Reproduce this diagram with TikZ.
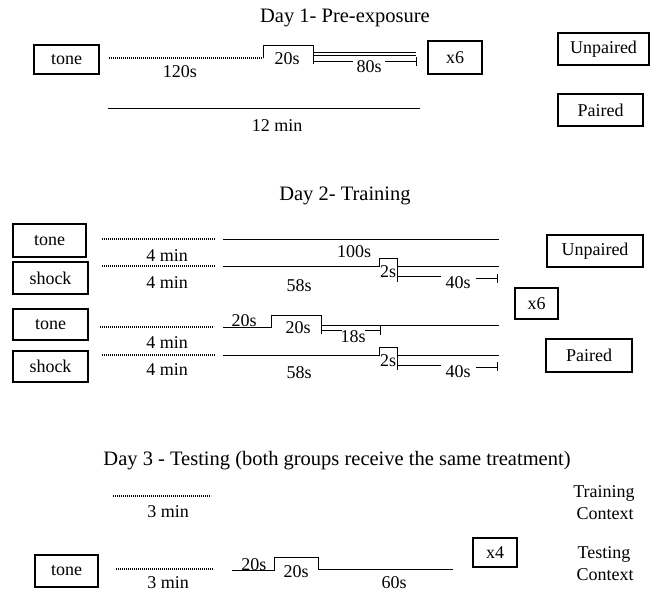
\documentclass[tikz,border=0pt]{standalone}
\usepackage{fontspec}
\setmainfont{Liberation Serif}
\newcommand\lfont{\fontsize{18}{21}\selectfont}
\newcommand\tfont{\fontsize{20.5}{24}\selectfont}
\begin{document}
\begin{tikzpicture}[x=1pt,y=-1pt,
  box/.style={draw, line width=1.1pt, inner sep=0pt, font=\lfont},
  lbl/.style={anchor=base, inner sep=0pt, font=\lfont},
  ttl/.style={anchor=base, inner sep=0pt, font=\tfont},
  dots/.style={line width=1.3pt, dash pattern=on 0.8pt off 1.2pt},
  ln/.style={line width=1pt},
  thn/.style={line width=0.8pt}]
\useasboundingbox (0,0) rectangle (656,592);

% ---------------- Day 1 ----------------
\node[ttl] (t1) at (345,22) {Day 1- Pre-exposure};
\node[box, minimum width=65pt, minimum height=29pt] (d1tone) at (66.5,59.5) {tone};
\draw[dots] (109,58) -- (263,58);
\draw[ln] (263,58) -- (263,45) -- (313,45) -- (313,64);
\draw[thn] (313,52) -- (416,52);
\draw[thn] (313,55) -- (416,55);
\draw[thn] (313,61) -- (353,61) (385,61) -- (416,61) (416,57) -- (416,66);
\node[lbl] (d1a) at (180,77) {120s};
\node[lbl] (d1b) at (287,64) {20s};
\node[lbl] (d1c) at (369,72) {80s};
\node[box, minimum width=54pt, minimum height=33pt] (d1x6) at (455,57.5) {x6};
\draw[ln] (108,108) -- (420,108);
\node[lbl] (d1d) at (277,131) {12 min};
\node[box, minimum width=91pt, minimum height=32pt] (d1unp) at (603.5,49) {Unpaired};
\node[box, minimum width=85pt, minimum height=32pt] (d1pair) at (600.5,110) {Paired};

% ---------------- Day 2 ----------------
\node[ttl] (t2) at (345,200) {Day 2- Training};
\node[box, minimum width=73pt, minimum height=33pt] (d2tone1) at (49.5,240.5) {tone};
\node[box, minimum width=75pt, minimum height=32pt] (d2shock1) at (50.5,278) {shock};
\node[box, minimum width=75pt, minimum height=31pt] (d2tone2) at (50.5,324.5) {tone};
\node[box, minimum width=75pt, minimum height=31pt] (d2shock2) at (50.5,366.5) {shock};

% row 1
\draw[dots] (102,239) -- (215,239);
\draw[ln] (223,239) -- (499,239);
\node[lbl] (r1a) at (167,261) {4 min};
\node[lbl] (r1b) at (354,257) {100s};
% row 2
\draw[dots] (102,266) -- (215,266);
\draw[ln] (223,266) -- (379,266) -- (379,258) -- (397,258) -- (397,282);
\draw[ln] (397,266) -- (499,266);
\draw[thn] (397,276) -- (441,276) (476,278) -- (497,278) (497,274) -- (497,283);
\node[lbl] (r2a) at (167,288) {4 min};
\node[lbl] (r2b) at (299,291) {58s};
\node[lbl] (r2c) at (388,277) {2s};
\node[lbl] (r2d) at (458,288) {40s};
% row 3
\draw[dots] (100,327) -- (214,327);
\draw[ln] (223,327) -- (271,327) -- (271,315) -- (321,315) -- (321,334);
\draw[ln] (321,325) -- (499,325);
\draw[thn] (321,330) -- (342,330) (365,330) -- (380,330) (380,326) -- (380,335);
\node[lbl] (r3a) at (167,348) {4 min};
\node[lbl] (r3b) at (244,326) {20s};
\node[lbl] (r3c) at (298,333) {20s};
\node[lbl] (r3d) at (353,342) {18s};
% row 4
\draw[dots] (102,355) -- (215,355);
\draw[ln] (223,355) -- (379,355) -- (379,347) -- (397,347) -- (397,370);
\draw[ln] (397,355) -- (499,355);
\draw[thn] (397,365) -- (441,365) (476,367) -- (497,367) (497,362) -- (497,371);
\node[lbl] (r4a) at (167,375) {4 min};
\node[lbl] (r4b) at (299,378) {58s};
\node[lbl] (r4c) at (388,366) {2s};
\node[lbl] (r4d) at (458,377) {40s};

\node[box, minimum width=96pt, minimum height=32pt] (d2unp) at (595,251) {Unpaired};
\node[box, minimum width=43pt, minimum height=31pt] (d2x6) at (536.5,303.5) {x6};
\node[box, minimum width=86pt, minimum height=33pt] (d2pair) at (589,355.5) {Paired};

% ---------------- Day 3 ----------------
\node[ttl] (t3) at (337,465) {Day 3 - Testing (both groups receive the same treatment)};
\draw[dots] (113,496) -- (211,496);
\node[lbl] (s1a) at (168,517) {3 min};
\node[box, minimum width=63pt, minimum height=32pt] (d3tone) at (66.5,571) {tone};
\draw[dots] (116,569) -- (213,569);
\node[lbl] (s2a) at (168,588.5) {3 min};
\draw[ln] (232,570) -- (274,570) -- (274,557) -- (318,557) -- (318,569) -- (453,569);
\node[lbl] (s2b) at (254,570) {20s};
\node[lbl] (s2c) at (296,577) {20s};
\node[lbl] (s2d) at (394,588) {60s};
\node[box, minimum width=44pt, minimum height=29pt] (d3x4) at (495,552.5) {x4};
\node[lbl] (c1) at (604,497) {Training};
\node[lbl] (c2) at (605,519) {Context};
\node[lbl] (c3) at (604,558) {Testing};
\node[lbl] (c4) at (605,580) {Context};
\end{tikzpicture}
\end{document}
